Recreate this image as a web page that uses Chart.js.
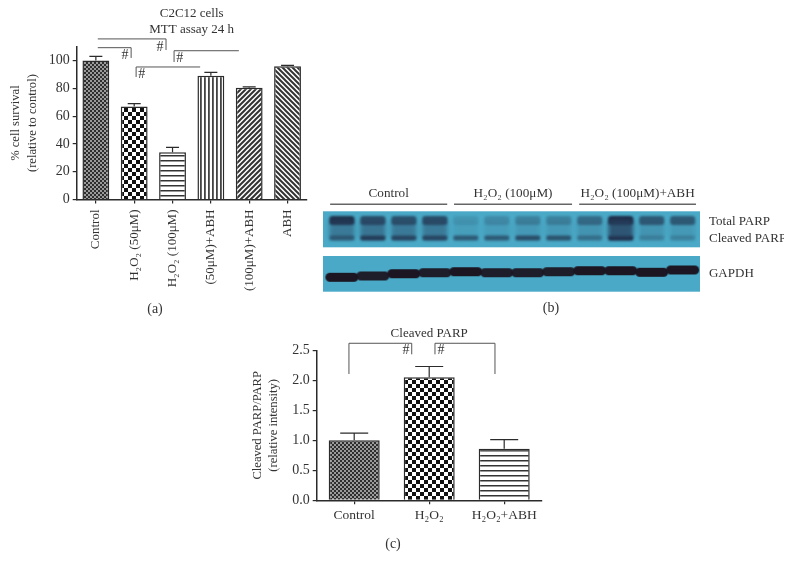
<!DOCTYPE html>
<html>
<head>
<meta charset="utf-8">
<title>C2C12 cells</title>
<script src="https://cdn.jsdelivr.net/npm/chart.js@4"></script>
<style>
  html, body { margin: 0; background: #fff; }
  body { width: 792px; height: 570px; position: relative; overflow: hidden; }
  canvas { position: absolute; }
</style>
</head>
<body>
<canvas id="chart_a" width="320" height="320" style="left:0;top:0"></canvas>
<canvas id="chart_b" width="461" height="140" style="left:323px;top:180px"></canvas>
<canvas id="chart_c" width="310" height="235" style="left:240px;top:320px"></canvas>
<script>
// panel (a)
const labelsA = ['Control', 'H₂O₂ (50μM)', 'H₂O₂ (100μM)', '(50μM)+ABH', '(100μM)+ABH', 'ABH'];
const valuesA = [100, 67, 34, 89, 80.5, 96];
const errorsA = [3, 2, 3.5, 2.5, 0.6, 0.5];
const patternsA = ['fine', 'check', 'hlines', 'vlines', 'slash', 'backslash'];
const ticksA = [0, 20, 40, 60, 80, 100];
const titleA = ['C2C12 cells', 'MTT assay 24 h'];
// from, to, level, left drop end, right drop end (null = no drop)
const bracketsA = [
    [0.05, 0.92, 109.3, null, 101.9],
    [0.05, 1.83, 115.6, null, 107.6],
    [1.05, 2.72, 95.4, 88.2, null],
    [2.04, 3.73, 107.1, 99, null]
];
const hashesA = [[0.76, 104], [1.67, 109.8], [1.2, 90], [2.19, 101.9]];

// panel (c)
const labelsC = ['Control', 'H₂O₂', 'H₂O₂+ABH'];
const valuesC = [1.0, 2.05, 0.86];
const errorsC = [0.12, 0.18, 0.15];
const patternsC = ['fine', 'check', 'hlines'];
const ticksC = [0, 0.5, 1, 1.5, 2, 2.5];
const titleC = ['Cleaved PARP'];
const bracketsC = [
    [-0.07, 0.767, 2.617, 2.105, 2.433],
    [1.077, 1.877, 2.617, 2.433, 2.105]
];
const hashesC = [[0.69, 2.505], [1.157, 2.505]];

// panel (b), western blot, band darkness per lane (0-1)
const lanes = [1, 2, 3, 4, 5, 6, 7, 8, 9, 10, 11, 12];
const totalParp = [0.95, 0.7, 0.65, 0.7, 0.12, 0.2, 0.28, 0.28, 0.45, 1, 0.6, 0.6];
const smearParp = [0.45, 0.5, 0.45, 0.45, 0.1, 0.12, 0.15, 0.15, 0.2, 0.8, 0.2, 0.15];
const cleavedParp = [0.55, 0.85, 0.75, 0.75, 0.6, 0.6, 0.7, 0.65, 0.4, 1, 0.25, 0.25];
const gapdh = [1, 0.95, 1, 0.95, 1, 0.95, 0.95, 0.95, 1, 1, 1, 1];
const gapdhRows = [66.3, 65, 62.7, 61.7, 60.7, 61.7, 61.7, 60.7, 59.7, 59.7, 61.3, 59];
const totalRow = 9.5, smearRow = 18, cleavedRow = 27;
const blotPanels = [[0.3, 36.3], [45, 80.7]];
const blotGroups = [
    ['Control', 0.62, 4.4],
    ['H₂O₂ (100μM)', 4.62, 8.43],
    ['H₂O₂ (100μM)+ABH', 8.66, 12.43]
];
const blotLabels = [['Total PARP', 10.5], ['Cleaved PARP', 27.5], ['GAPDH', 63]];

const ink = '#2b2b2b';
const textColor = '#333';
const serif = '"Liberation Serif", serif';

function makePattern(kind) {
    const sizes = { fine: 4, check: 8, hlines: 5, vlines: 4, slash: 5, backslash: 5 };
    const s = sizes[kind];
    const c = document.createElement('canvas');
    c.width = c.height = s;
    const g = c.getContext('2d');
    g.fillStyle = '#fff';
    g.fillRect(0, 0, s, s);
    g.fillStyle = g.strokeStyle = '#111';
    if (kind === 'fine') {
        g.fillStyle = '#9a9a9a';
        g.fillRect(0, 0, s, s);
        g.fillStyle = '#2e2e2e';
        g.fillRect(0, 0, 2, 2);
        g.fillRect(2, 2, 2, 2);
    } else if (kind === 'check') {
        g.fillRect(0, 0, 4, 4);
        g.fillRect(4, 4, 4, 4);
    } else if (kind === 'hlines') {
        g.fillStyle = '#333';
        g.fillRect(0, 0, s, 1.5);
    } else if (kind === 'vlines') {
        g.fillStyle = '#444';
        g.fillRect(0, 0, 1.8, s);
    } else {
        g.strokeStyle = '#333';
        g.lineWidth = 2;
        if (kind === 'backslash') { g.translate(s, 0); g.scale(-1, 1); }
        g.beginPath();
        g.moveTo(-1, 1); g.lineTo(1, -1);
        g.moveTo(0, s); g.lineTo(s, 0);
        g.moveTo(s - 1, s + 1); g.lineTo(s + 1, s - 1);
        g.stroke();
    }
    return g.createPattern(c, 'repeat');
}

function drawCaption(ctx, text, x, y) {
    ctx.fillStyle = textColor;
    ctx.textAlign = 'center';
    ctx.textBaseline = 'middle';
    ctx.font = '14px ' + serif;
    ctx.fillText(text, x, y);
}

// error bars, significance brackets and the title, all through the scales
const barExtras = {
    id: 'barExtras',
    afterDatasetsDraw(chart, args, o) {
        const { ctx, chartArea } = chart;
        const x = chart.scales.x, y = chart.scales.y;
        ctx.save();
        ctx.strokeStyle = ink;
        ctx.lineWidth = 1.2;
        o.errors.forEach((e, i) => {
            const px = x.getPixelForValue(i);
            const top = y.getPixelForValue(o.values[i] + e);
            ctx.beginPath();
            ctx.moveTo(px, y.getPixelForValue(o.values[i]));
            ctx.lineTo(px, top);
            ctx.moveTo(px - o.capWidth / 2, top);
            ctx.lineTo(px + o.capWidth / 2, top);
            ctx.stroke();
        });
        ctx.strokeStyle = '#555';
        ctx.lineWidth = 1;
        o.brackets.forEach(([from, to, level, dropL, dropR]) => {
            const x1 = x.getPixelForValue(from), x2 = x.getPixelForValue(to);
            const py = y.getPixelForValue(level);
            ctx.beginPath();
            if (dropL !== null) { ctx.moveTo(x1, y.getPixelForValue(dropL)); ctx.lineTo(x1, py); }
            else ctx.moveTo(x1, py);
            ctx.lineTo(x2, py);
            if (dropR !== null) ctx.lineTo(x2, y.getPixelForValue(dropR));
            ctx.stroke();
        });
        ctx.fillStyle = textColor;
        ctx.textAlign = 'center';
        ctx.textBaseline = 'middle';
        ctx.font = '14px ' + serif;
        o.hashes.forEach(([hx, hy]) => ctx.fillText('#', x.getPixelForValue(hx), y.getPixelForValue(hy)));
        const cx = (chartArea.left + chartArea.right) / 2;
        ctx.font = '13px ' + serif;
        o.title.forEach((t, i) => ctx.fillText(t, cx, o.titleY + i * 16));
        drawCaption(ctx, o.caption[0], o.caption[1], o.caption[2]);
        ctx.restore();
    }
};

function barChart(id, cfg) {
    return new Chart(document.getElementById(id), {
        type: 'bar',
        data: {
            labels: cfg.labels,
            datasets: [{
                data: cfg.values,
                backgroundColor: cfg.patterns.map(makePattern),
                borderColor: ink,
                borderWidth: 1.5,
                barPercentage: cfg.barWidth,
                categoryPercentage: 1
            }]
        },
        options: {
            responsive: false,
            animation: false,
            layout: { padding: cfg.padding, autoPadding: false },
            plugins: {
                legend: { display: false },
                tooltip: { enabled: false },
                barExtras: {
                    values: cfg.values, errors: cfg.errors, capWidth: cfg.capWidth,
                    brackets: cfg.brackets, hashes: cfg.hashes,
                    title: cfg.title, titleY: cfg.titleY, caption: cfg.caption
                }
            },
            scales: {
                x: {
                    afterFit: s => { s.height = cfg.xHeight; },
                    border: { color: ink, width: 1.5 },
                    grid: { offset: false, drawOnChartArea: false, color: ink, tickLength: 4, lineWidth: 1.2 },
                    ticks: {
                        color: textColor, font: { family: serif, size: cfg.xFont }, padding: cfg.xPad,
                        autoSkip: false, minRotation: cfg.rotation, maxRotation: cfg.rotation
                    }
                },
                y: {
                    min: 0,
                    max: cfg.max,
                    afterFit: s => { s.width = cfg.yWidth; },
                    afterBuildTicks: s => { s.ticks = cfg.ticks.map(value => ({ value })); },
                    border: { color: ink, width: 1.5 },
                    grid: { drawOnChartArea: false, color: ink, tickLength: 4, lineWidth: 1.2 },
                    ticks: {
                        color: textColor, font: { family: serif, size: 14 }, padding: 3,
                        callback: cfg.tickFormat
                    },
                    title: {
                        display: true, text: cfg.yTitle, color: textColor,
                        font: { family: serif, size: 12.6, lineHeight: cfg.yTitleLine },
                        padding: { top: cfg.yTitlePad, bottom: 0 }
                    }
                }
            }
        },
        plugins: [barExtras]
    });
}

barChart('chart_a', {
    labels: labelsA, values: valuesA, errors: errorsA, patterns: patternsA,
    brackets: bracketsA, hashes: hashesA, title: titleA, titleY: 14, caption: ['(a)', 155, 309],
    ticks: ticksA, max: 110, tickFormat: v => v,
    padding: { top: 46.7, right: 13.3, left: 0, bottom: 0 },
    xHeight: 120.5, yWidth: 76.7, barWidth: 0.7, capWidth: 13, rotation: 90, xPad: 6, xFont: 13,
    yTitle: ['% cell survival', '(relative to control)'], yTitleLine: 1.35, yTitlePad: 7
});

barChart('chart_c', {
    labels: labelsC, values: valuesC, errors: errorsC, patterns: patternsC,
    brackets: bracketsC, hashes: hashesC, title: titleC, titleY: 14, caption: ['(c)', 153, 224],
    ticks: ticksC, max: 2.5, tickFormat: v => v.toFixed(1),
    padding: { top: 30.3, right: 8.3, left: 0, bottom: 0 },
    xHeight: 54.7, yWidth: 76.7, barWidth: 0.68, capWidth: 28, rotation: 0, xPad: 3, xFont: 13.5,
    yTitle: ['Cleaved PARP/PARP', '(relative intensity)'], yTitleLine: 1.27, yTitlePad: 10
});

// soft blot band, used as the point style of the scatter chart
function bandImage(w, h, dark, blur, color, radius) {
    const c = document.createElement('canvas');
    c.width = w + 12;
    c.height = h + 12;
    const g = c.getContext('2d');
    g.filter = 'blur(' + blur + 'px)';
    g.globalAlpha = dark;
    g.fillStyle = color;
    g.beginPath();
    g.roundRect(6, 6, w, h, radius);
    g.fill();
    return c;
}

const blotBackground = {
    id: 'blotBackground',
    beforeDatasetsDraw(chart) {
        const { ctx, chartArea } = chart;
        const y = chart.scales.y;
        ctx.save();
        ctx.fillStyle = '#4aa9c6';
        blotPanels.forEach(([a, b]) => {
            ctx.fillRect(chartArea.left, y.getPixelForValue(a), chartArea.width, y.getPixelForValue(b) - y.getPixelForValue(a));
        });
        ctx.restore();
    },
    afterDatasetsDraw(chart) {
        const { ctx } = chart;
        const x = chart.scales.x, y = chart.scales.y;
        ctx.save();
        ctx.fillStyle = textColor;
        ctx.strokeStyle = '#666';
        ctx.lineWidth = 1.5;
        ctx.textBaseline = 'middle';
        ctx.font = '13.2px ' + serif;
        ctx.textAlign = 'center';
        blotGroups.forEach(([name, from, to]) => {
            const x1 = x.getPixelForValue(from), x2 = x.getPixelForValue(to);
            ctx.fillText(name, (x1 + x2) / 2, y.getPixelForValue(-17));
            ctx.beginPath();
            ctx.moveTo(x1, y.getPixelForValue(-6.7));
            ctx.lineTo(x2, y.getPixelForValue(-6.7));
            ctx.stroke();
        });
        ctx.textAlign = 'left';
        ctx.font = '13px ' + serif;
        blotLabels.forEach(([name, row]) => ctx.fillText(name, x.getPixelForValue(12.85), y.getPixelForValue(row)));
        drawCaption(ctx, '(b)', 228, 128);
        ctx.restore();
    }
};

const bandSet = (rows, darkness, w, h, blur, color, radius) => ({
    data: lanes.map((lane, i) => ({ x: lane, y: rows[i] })),
    pointStyle: darkness.map(d => bandImage(w, h, d, blur, color, radius)),
    pointRadius: 10
});

new Chart(document.getElementById('chart_b'), {
    type: 'scatter',
    data: {
        datasets: [
            bandSet(lanes.map(() => smearRow), smearParp, 25, 20, 2, '#27405f', 3),
            bandSet(lanes.map(() => totalRow), totalParp, 25, 9, 1.2, '#1c2a44', 3),
            bandSet(lanes.map(() => cleavedRow), cleavedParp, 25, 5, 1, '#1c2a44', 2),
            bandSet(gapdhRows, gapdh, 33, 9, 0.7, '#1b1622', 5)
        ]
    },
    options: {
        responsive: false,
        animation: false,
        layout: { padding: { top: 31, right: 84, bottom: 28, left: 0 }, autoPadding: false },
        plugins: { legend: { display: false }, tooltip: { enabled: false } },
        scales: {
            x: { display: false, min: 0.39, max: 12.56 },
            y: { display: false, min: 0, max: 81, reverse: true }
        }
    },
    plugins: [blotBackground]
});
</script>
</body>
</html>
